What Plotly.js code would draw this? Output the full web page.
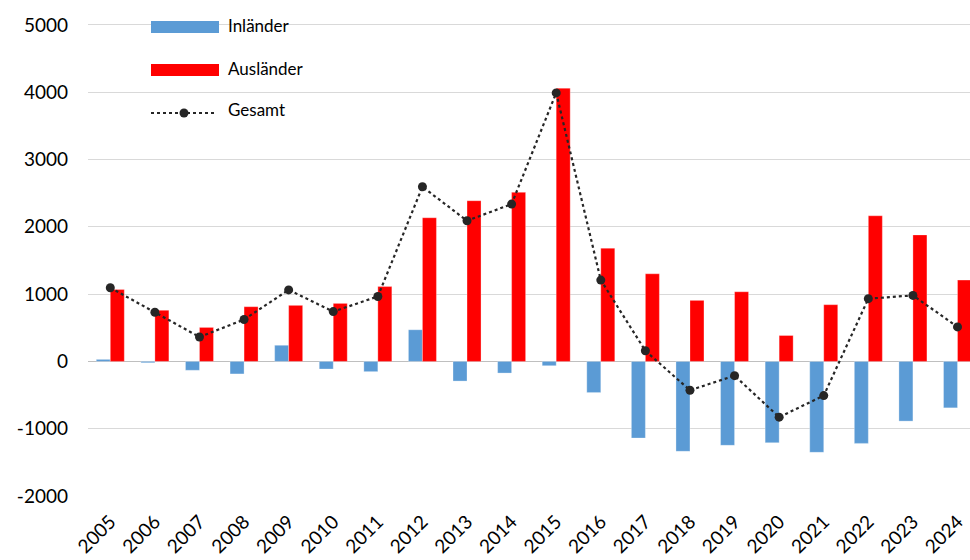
<!DOCTYPE html>
<html>
<head>
<meta charset="utf-8">
<script src="https://cdn.plot.ly/plotly-3.0.1.min.js"></script>
<style>html,body{margin:0;padding:0;background:#fff;}#chart{width:970px;height:560px;}</style>
</head>
<body>
<div id="chart"></div>
<script>
const years = ["2005","2006","2007","2008","2009","2010","2011","2012","2013","2014","2015","2016","2017","2018","2019","2020","2021","2022","2023","2024"];
const inlaender = [30,-20,-132,-186,240,-113,-152,470,-292,-173,-64,-463,-1139,-1336,-1247,-1208,-1351,-1218,-887,-690];
const auslaender = [1068,760,505,813,833,862,1112,2135,2388,2512,4060,1682,1302,907,1035,385,843,2164,1880,1208];
const gesamt = [1095,730,363,622,1063,740,965,2595,2090,2338,3990,1208,158,-429,-212,-828,-508,932,981,513];
const seriesNames = ["Inländer","Ausländer","Gesamt"];

const W = 970, H = 560, L = 88, R = 0, T = 10, B = 64;
const pw = W - L - R, ph = H - T - B;
const px = x => (x - L) / pw;
const py = y => (H - B - y) / ph;

const FONT = "Lato, 'Open Sans', sans-serif";

const traces = [
  {type:'bar', x: years, y: inlaender, name: seriesNames[0], marker:{color:'#5b9bd5', line:{color:'rgba(255,255,255,0.6)', width:0.5}}, hoverinfo:'skip'},
  {type:'bar', x: years, y: auslaender, name: seriesNames[1], marker:{color:'#ff0000', line:{color:'rgba(255,255,255,0.6)', width:0.5}}, hoverinfo:'skip'},
  {type:'scatter', mode:'lines+markers', x: years, y: gesamt, name: seriesNames[2], line:{color:'#262626', width:2.2, dash:'dot'}, marker:{color:'#262626', size:9}, hoverinfo:'skip'}
];

const legendColors = ['#5b9bd5','#ff0000'];
const shapes = [
  {type:'rect', xref:'paper', yref:'paper', x0:px(131), x1:px(325), y0:py(130), y1:py(10), fillcolor:'#ffffff', line:{width:0}, layer:'between'},
  {type:'rect', xref:'paper', yref:'paper', x0:px(151), x1:px(219), y0:py(33), y1:py(21), fillcolor:legendColors[0], line:{width:0}, layer:'above'},
  {type:'rect', xref:'paper', yref:'paper', x0:px(151), x1:px(219), y0:py(76), y1:py(64), fillcolor:legendColors[1], line:{width:0}, layer:'above'},
  {type:'line', xref:'paper', yref:'paper', x0:px(151), x1:px(217), y0:py(113), y1:py(113), line:{color:'#262626', width:2.2, dash:'dot'}, layer:'above'},
  {type:'circle', xref:'paper', yref:'paper', x0:px(179.5), x1:px(188.5), y0:py(117.5), y1:py(108.5), fillcolor:'#262626', line:{width:0}, layer:'above'}
];
const annotations = [
  {xref:'paper', yref:'paper', x:px(226), y:py(25), text:seriesNames[0], showarrow:false, xanchor:'left', yanchor:'middle', font:{family:FONT, size:17, color:'#000'}},
  {xref:'paper', yref:'paper', x:px(226), y:py(68), text:seriesNames[1], showarrow:false, xanchor:'left', yanchor:'middle', font:{family:FONT, size:17, color:'#000'}},
  {xref:'paper', yref:'paper', x:px(226), y:py(110), text:seriesNames[2], showarrow:false, xanchor:'left', yanchor:'middle', font:{family:FONT, size:17, color:'#000'}}
];

const layout = {
  width: W, height: H,
  margin: {l:L, r:R, t:T, b:B, pad:0},
  paper_bgcolor:'#fff', plot_bgcolor:'#fff',
  showlegend:false,
  barmode:'group', bargap:0.372, bargroupgap:0,
  font:{family:FONT, color:'#000'},
  xaxis:{type:'category', range:[-0.5, 19.28], tickangle:-45, showgrid:false, showline:false, ticks:'', ticklabelstandoff:10, tickfont:{family:FONT, size:19, color:'#000'}, fixedrange:true},
  yaxis:{range:[-2000, 5222], tickvals:[-2000,-1000,0,1000,2000,3000,4000,5000], ticktext:['-2000','-1000','0','1000','2000','3000','4000','5000'], showgrid:true, gridcolor:'#d9d9d9', gridwidth:1, zeroline:true, zerolinecolor:'#bfbfbf', zerolinewidth:1.5, showline:false, ticks:'', ticklabelstandoff:19, tickfont:{family:FONT, size:19, color:'#000'}, fixedrange:true},
  shapes: shapes,
  annotations: annotations
};

Plotly.newPlot('chart', traces, layout, {staticPlot:true, displayModeBar:false});
</script>
</body>
</html>
